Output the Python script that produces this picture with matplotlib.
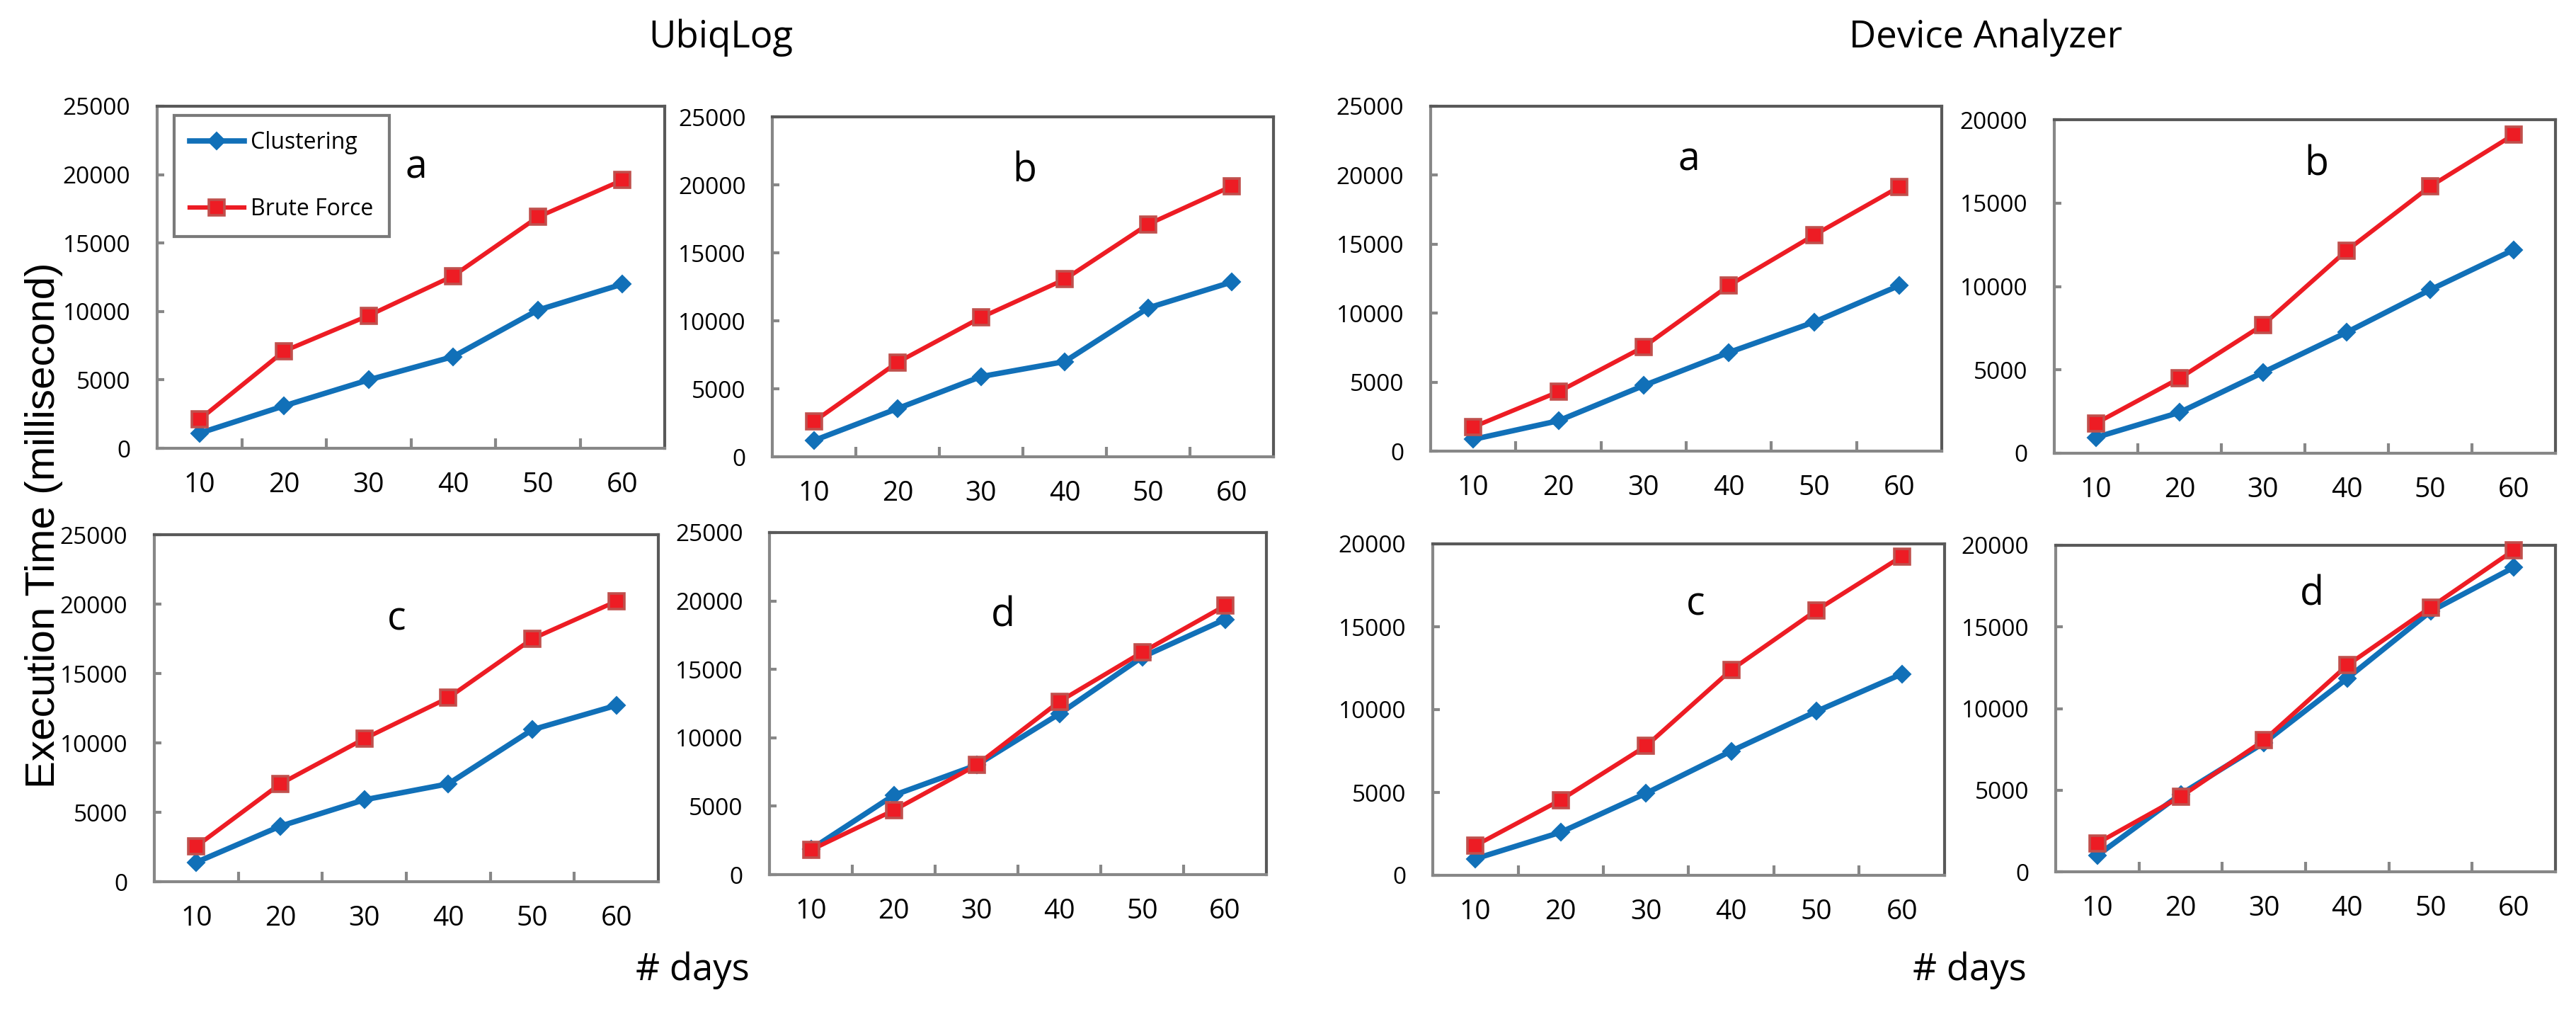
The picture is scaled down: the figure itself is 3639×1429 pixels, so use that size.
import matplotlib
matplotlib.use("Agg")
import matplotlib.pyplot as plt

# ---------------- data ----------------
days = [10, 20, 30, 40, 50, 60]
series_names = ["Clustering", "Brute Force"]
group_titles = ["UbiqLog", "Device Analyzer"]
panel_letters = ["a", "b", "c", "d"]

ubiq_a_clustering = [1100, 3100, 5000, 6700, 10100, 12000]
ubiq_a_brute = [2100, 7100, 9700, 12600, 16900, 19600]
ubiq_b_clustering = [1200, 3550, 5900, 7000, 10950, 12850]
ubiq_b_brute = [2600, 6950, 10250, 13050, 17100, 19900]
ubiq_c_clustering = [1400, 4000, 5900, 7050, 10950, 12700]
ubiq_c_brute = [2550, 7050, 10300, 13250, 17500, 20200]
ubiq_d_clustering = [1850, 5800, 8000, 11750, 15900, 18650]
ubiq_d_brute = [1800, 4700, 8000, 12650, 16250, 19650]

da_a_clustering = [850, 2200, 4750, 7150, 9350, 12000]
da_a_brute = [1750, 4300, 7550, 12000, 15650, 19150]
da_b_clustering = [950, 2450, 4850, 7250, 9800, 12200]
da_b_brute = [1800, 4500, 7700, 12150, 16000, 19100]
da_c_clustering = [1000, 2600, 4950, 7500, 9900, 12150]
da_c_brute = [1800, 4550, 7800, 12400, 16000, 19250]
da_d_clustering = [1000, 4750, 7900, 11850, 15950, 18650]
da_d_brute = [1750, 4600, 8050, 12650, 16200, 19700]

ubiq_ymax = [25000, 25000, 25000, 25000]
da_ymax = [25000, 20000, 20000, 20000]

# ---------------- layout / style ----------------
W, H = 3639, 1429
fig = plt.figure(figsize=(W / 100, H / 100), dpi=100)

TICK_FONT = "Open Sans"
BLUE = "#1170b8"
RED = "#ed1c24"
RED_EDGE = "#c0504d"
DARK = "#595959"
GRAY = "#878787"

# (left, top, right, bottom) in pixels
boxes = {
    ("u", 0): (222, 150, 939, 633),
    ("u", 1): (1091, 165, 1799, 645),
    ("u", 2): (218, 755, 930, 1245),
    ("u", 3): (1087, 752, 1789, 1235),
    ("d", 0): (2021, 150, 2743, 637),
    ("d", 1): (2902, 169, 3610, 640),
    ("d", 2): (2024, 768, 2747, 1236),
    ("d", 3): (2904, 770, 3610, 1231),
}
letter_pos = {
    ("u", 0): (0.51, 0.82), ("u", 1): (0.503, 0.84),
    ("u", 2): (0.48, 0.755), ("u", 3): (0.47, 0.755),
    ("d", 0): (0.505, 0.844), ("d", 1): (0.523, 0.864),
    ("d", 2): (0.513, 0.816), ("d", 3): (0.513, 0.848),
}

data = {
    ("u", 0): (ubiq_a_clustering, ubiq_a_brute, ubiq_ymax[0]),
    ("u", 1): (ubiq_b_clustering, ubiq_b_brute, ubiq_ymax[1]),
    ("u", 2): (ubiq_c_clustering, ubiq_c_brute, ubiq_ymax[2]),
    ("u", 3): (ubiq_d_clustering, ubiq_d_brute, ubiq_ymax[3]),
    ("d", 0): (da_a_clustering, da_a_brute, da_ymax[0]),
    ("d", 1): (da_b_clustering, da_b_brute, da_ymax[1]),
    ("d", 2): (da_c_clustering, da_c_brute, da_ymax[2]),
    ("d", 3): (da_d_clustering, da_d_brute, da_ymax[3]),
}

def make_axes(box):
    l, t, r, b = box
    return fig.add_axes([l / W, 1 - b / H, (r - l) / W, (b - t) / H])

first_ax = None
for key, box in boxes.items():
    clus, brute, ymax = data[key]
    ax = make_axes(box)
    xs = list(range(1, len(days) + 1))
    ax.plot(xs, clus, color=BLUE, lw=5.5, marker="D", ms=12.5,
            mfc=BLUE, mec=BLUE, mew=1.5, clip_on=False, zorder=3,
            label=series_names[0])
    ax.plot(xs, brute, color=RED, lw=4.5, marker="s", ms=16.5,
            mfc=RED, mec=RED_EDGE, mew=2.6, clip_on=False, zorder=4,
            label=series_names[1])
    ax.set_xlim(0.5, len(days) + 0.5)
    ax.set_ylim(0, ymax)
    ax.set_xticks(xs)
    ax.set_xticklabels([str(d) for d in days], fontsize=28, family=TICK_FONT)
    ax.set_xticks([i + 0.5 for i in xs[:-1]], minor=True)
    ax.tick_params(axis="x", which="major", length=0, pad=24)
    ax.tick_params(axis="x", which="minor", direction="in", length=10,
                   width=3, color=GRAY)
    yt = list(range(0, ymax + 1, 5000))
    ax.set_yticks(yt)
    ax.set_yticklabels([str(v) for v in yt], fontsize=24, family=TICK_FONT)
    ax.tick_params(axis="y", direction="in", length=7, width=3, color=GRAY,
                   pad=27)
    for side in ("top", "right"):
        ax.spines[side].set_color(DARK)
        ax.spines[side].set_linewidth(3)
    for side in ("left", "bottom"):
        ax.spines[side].set_color(GRAY)
        ax.spines[side].set_linewidth(3)
    lx, ly = letter_pos[key]
    ax.text(lx, ly, panel_letters[key[1]], transform=ax.transAxes,
            ha="center", va="center", fontsize=40, family=TICK_FONT)
    if first_ax is None:
        first_ax = ax

leg = first_ax.legend(loc="upper left", bbox_to_anchor=(0.033, 0.973),
                      borderaxespad=0, frameon=True, fancybox=False,
                      prop={"family": TICK_FONT, "size": 23},
                      handlelength=2.4, handletextpad=0.3, labelspacing=1.9,
                      borderpad=0.7)
leg.get_frame().set_edgecolor(DARK)
leg.get_frame().set_linewidth(3)

# group titles
fig.text(1018 / W, 1 - 53 / H, group_titles[0], ha="center", va="center",
         fontsize=38, family=TICK_FONT)
fig.text(2805 / W, 1 - 53 / H, group_titles[1], ha="center", va="center",
         fontsize=38, family=TICK_FONT)
# x labels
fig.text(978 / W, 1 - 1370 / H, "# days", ha="center", va="center",
         fontsize=38, family=TICK_FONT)
fig.text(2782 / W, 1 - 1370 / H, "# days", ha="center", va="center",
         fontsize=38, family=TICK_FONT)
# y label
fig.text(62 / W, 1 - 742 / H, "Execution Time (millisecond)", ha="center",
         va="center", rotation=90, fontsize=42, family="Liberation Sans")

fig.savefig("out.png", dpi=100, facecolor="white")
